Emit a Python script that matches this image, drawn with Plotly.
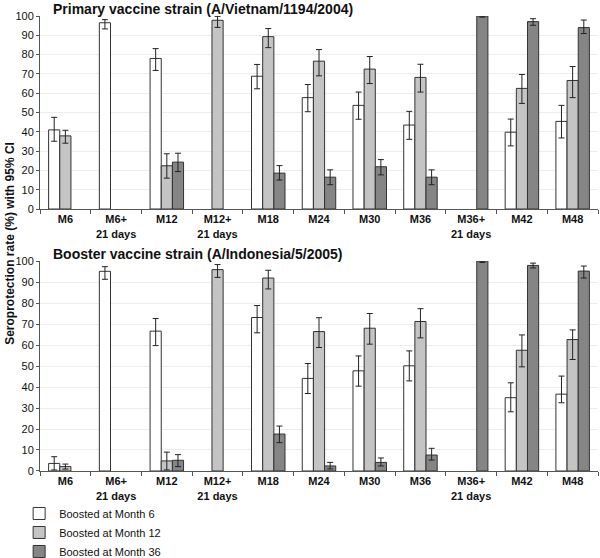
import plotly.graph_objects as go

categories = ["M6", "M6+<br>21 days", "M12", "M12+<br>21 days", "M18", "M24", "M30", "M36",
              "M36+<br>21 days", "M42", "M48"]

# Primary vaccine strain (A/Vietnam/1194/2004)
p_m6 = [41, 96.5, 78, None, 68.8, 57.7, 53.7, 43.5, None, 39.8, 45.4]
p_m6_lo = [35.1, 93.3, 71.8, None, 62.3, 50.4, 46.5, 36.1, None, 32.7, 36.8]
p_m6_hi = [47.5, 98.1, 83.1, None, 74.9, 64.5, 60.6, 50.6, None, 46.6, 53.7]
p_m12 = [37.9, None, 22.4, 97.8, 89.3, 76.6, 72.5, 68.2, None, 62.5, 66.6]
p_m12_lo = [34.1, None, 16.0, 94.1, 83.6, 69.0, 65.0, 60.6, None, 54.7, 57.7]
p_m12_hi = [40.8, None, 28.6, 99.8, 93.5, 82.6, 79.0, 75.0, None, 69.7, 73.8]
p_m36 = [None, None, 24.3, None, 18.6, 16.5, 21.9, 16.5, 100, 97.1, 94.0]
p_m36_lo = [None, None, 19.4, None, 15.0, 12.6, 17.7, 12.6, 99.4, 95.2, 90.9]
p_m36_hi = [None, None, 28.9, None, 22.5, 20.3, 25.6, 20.3, 100, 98.6, 97.9]

# Booster vaccine strain (A/Indonesia/5/2005)
b_m6 = [3.6, 95.1, 66.6, None, 73.1, 44.1, 47.7, 50.1, None, 34.9, 36.6]
b_m6_lo = [0.5, 91.3, 59.7, None, 65.8, 36.9, 40.4, 42.9, None, 28.2, 32.5]
b_m6_hi = [6.8, 97.3, 72.6, None, 78.8, 51.2, 54.8, 57.2, None, 42.0, 45.2]
b_m12 = [2.1, None, 4.8, 95.9, 91.9, 66.4, 68.0, 71.2, None, 57.5, 62.6]
b_m12_lo = [0.9, None, 0.5, 92.2, 86.7, 58.8, 60.4, 63.4, None, 49.6, 53.1]
b_m12_hi = [3.3, None, 9.0, 98.3, 95.6, 73.0, 75.0, 77.3, None, 64.8, 67.2]
b_m36 = [None, None, 5.1, None, 17.6, 2.4, 4.1, 7.6, 100, 97.9, 95.2]
b_m36_lo = [None, None, 2.1, None, 13.5, 1.0, 2.4, 5.2, 99.3, 96.7, 91.9]
b_m36_hi = [None, None, 7.8, None, 21.4, 4.1, 6.2, 10.8, 100, 99.0, 97.6]

series_names = ["Boosted at Month 6", "Boosted at Month 12", "Boosted at Month 36"]
colors = ["#ffffff", "#c4c4c4", "#858585"]

FONT = "Liberation Sans, Arial, sans-serif"


def err(vals, lo, hi):
    plus = [None if v is None else h - v for v, h in zip(vals, hi)]
    minus = [None if v is None else v - l for v, l in zip(vals, lo)]
    return dict(type="data", symmetric=False, array=plus, arrayminus=minus,
                color="#222222", thickness=1, width=3)


fig = go.Figure()
panels = [
    ("x", "y", [(p_m6, p_m6_lo, p_m6_hi), (p_m12, p_m12_lo, p_m12_hi), (p_m36, p_m36_lo, p_m36_hi)], True),
    ("x2", "y2", [(b_m6, b_m6_lo, b_m6_hi), (b_m12, b_m12_lo, b_m12_hi), (b_m36, b_m36_lo, b_m36_hi)], False),
]
for xa, ya, data, show in panels:
    for i, (vals, lo, hi) in enumerate(data):
        fig.add_trace(go.Bar(
            x=categories, y=vals, name=series_names[i], xaxis=xa, yaxis=ya,
            marker=dict(color=colors[i], line=dict(color="#333333", width=1)),
            error_y=err(vals, lo, hi), showlegend=show, legendgroup=series_names[i],
        ))

xcommon = dict(type="category", showline=True, linecolor="#555555", linewidth=1,
               ticks="outside", tickson="boundaries", ticklen=4, tickcolor="#555555",
               tickfont=dict(family=FONT, size=11, color="#111111", weight="bold"),
               showgrid=False)
ycommon = dict(range=[0, 100], dtick=10, showline=True, linecolor="#555555", linewidth=1,
               ticks="outside", ticklen=3, tickcolor="#555555",
               tickfont=dict(family=FONT, size=11, color="#111111"),
               showgrid=True, gridcolor="#ededed", gridwidth=1, zeroline=False)

fig.update_layout(
    width=600, height=558,
    margin=dict(l=40, r=2, t=16, b=87, autoexpand=False),
    paper_bgcolor="white", plot_bgcolor="white",
    barmode="group", bargap=0.34, bargroupgap=0.0,
    xaxis=dict(domain=[0, 1], anchor="y", **xcommon),
    yaxis=dict(domain=[0.5758, 1], anchor="x", **ycommon),
    xaxis2=dict(domain=[0, 1], anchor="y2", **xcommon),
    yaxis2=dict(domain=[0, 0.4615], anchor="x2", **ycommon),
    legend=dict(x=-0.0374, y=-0.0615, xanchor="left", yanchor="top", orientation="v",
                font=dict(family=FONT, size=11, color="#111111"),
                bgcolor="rgba(0,0,0,0)", traceorder="normal", itemwidth=30),
    showlegend=True,
    annotations=[
        dict(text="<b>Primary vaccine strain (A/Vietnam/1194/2004)</b>", xref="paper", yref="paper",
             x=0.019, y=1.0, xanchor="left", yanchor="bottom", yshift=-3, showarrow=False,
             font=dict(family=FONT, size=14, color="#111111")),
        dict(text="<b>Booster vaccine strain (A/Indonesia/5/2005)</b>", xref="paper", yref="paper",
             x=0.019, y=0.4615, xanchor="left", yanchor="bottom", yshift=-3, showarrow=False,
             font=dict(family=FONT, size=14, color="#111111")),
        dict(text="<b>Seroprotection rate (%) with 95% CI</b>", xref="paper", yref="paper",
             x=-0.055, y=0.5, xanchor="center", yanchor="middle", textangle=-90, showarrow=False,
             font=dict(family=FONT, size=12, color="#111111")),
    ],
)

# Remove the browser's default 8px body margin so the figure fills the window.
fig.write_html("out.html", config={"displayModeBar": False},
               post_script="document.body.style.margin='0px';")
